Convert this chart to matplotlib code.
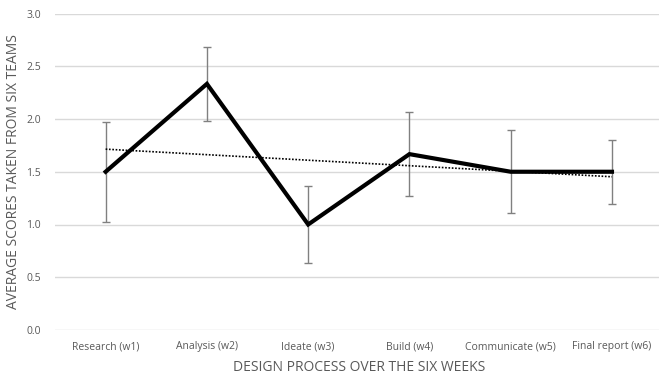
import numpy as np
import matplotlib
matplotlib.use("Agg")
import matplotlib.pyplot as plt

categories = ["Research (w1)", "Analysis (w2)", "Ideate (w3)", "Build (w4)",
              "Communicate (w5)", "Final report (w6)"]
scores = [1.5, 2.333, 1.0, 1.667, 1.5, 1.5]
errors = [0.475, 0.35, 0.365, 0.395, 0.395, 0.305]
yticks = [0.0, 0.5, 1.0, 1.5, 2.0, 2.5, 3.0]

plt.rcParams['font.family'] = ['Open Sans', 'DejaVu Sans']

fig = plt.figure(figsize=(6.59, 3.76), dpi=100)
ax = fig.add_axes([55/659, 1-330/376, (662.6-55)/659, (330-13.5)/376])

x = np.arange(1, len(categories)+1)
ax.errorbar(x, scores, yerr=errors, fmt='none', ecolor='#808080',
            elinewidth=1, capsize=3, capthick=1, zorder=3)
ax.plot(x, scores, color='black', lw=3, zorder=4, solid_joinstyle='miter')

coef = np.polyfit(x, scores, 1)
ax.plot(x, np.polyval(coef, x), color='black', lw=1.2, ls=(0, (1, 1)), zorder=5)

ax.set_xlim(0.5, 6.5)
ax.set_ylim(0, 3.0)
ax.set_yticks(yticks)
ax.set_yticklabels([f"{v:.1f}" for v in yticks])
ax.set_xticks(x)
ax.set_xticklabels(categories)
ax.yaxis.grid(True, color='#d9d9d9', lw=1)
ax.set_axisbelow(True)
for s in ax.spines.values():
    s.set_visible(False)
ax.tick_params(length=0, labelsize=7.5, colors='#595959', pad=8)
ax.tick_params(axis='y', pad=10)

ax.set_xlabel("DESIGN PROCESS OVER THE SIX WEEKS", fontsize=10, color='#595959', labelpad=6)
ax.set_ylabel("AVERAGE SCORES TAKEN FROM SIX TEAMS", fontsize=10, color='#595959', labelpad=4)

fig.savefig("out.png", dpi=100)
